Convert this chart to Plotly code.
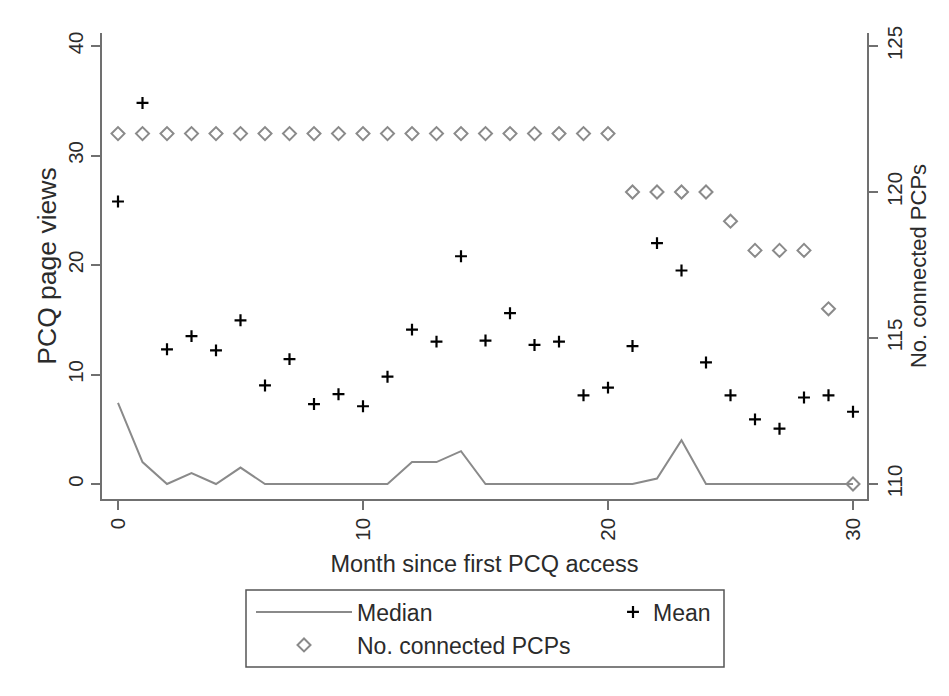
import plotly.graph_objects as go

months = list(range(31))
mean_views = [25.8, 34.8, 12.3, 13.5, 12.2, 14.95, 9.0, 11.4, 7.3, 8.2, 7.1, 9.8,
              14.1, 13.0, 20.8, 13.1, 15.6, 12.7, 13.0, 8.1, 8.8, 12.6, 22.0, 19.5,
              11.1, 8.1, 5.9, 5.05, 7.9, 8.1, 6.6]
median_views = [7.4, 2, 0, 1, 0, 1.5, 0, 0, 0, 0, 0, 0,
                2, 2, 3, 0, 0, 0, 0, 0, 0, 0, 0.5, 4,
                0, 0, 0, 0, 0, 0, 0]
connected_pcps = [122] * 21 + [120, 120, 120, 120, 119, 118, 118, 118, 116, 110]

FONT = "Liberation Sans, Arial, sans-serif"
TXT = "#2b2b2b"
AX = "#707070"
GREY = "#8a8a8a"

W, H = 949, 696
OFF = 8  # page body margin
# plot area in window pixels
PL, PR, PT, PB = 102, 867, 33, 499
pw, ph = PR - PL, PB - PT

def px(x):
    return (x - PL) / pw

def py(y):
    return (PB - y) / ph

fig = go.Figure()
fig.add_trace(go.Scatter(x=months, y=median_views, mode="lines", name="Median",
                         line=dict(color=GREY, width=2), legend="legend"))
fig.add_trace(go.Scatter(x=months, y=mean_views, mode="markers", name="Mean",
                         marker=dict(symbol="cross-thin", size=8.5, color="black",
                                     line=dict(color="black", width=2.2)),
                         legend="legend2"))
fig.add_trace(go.Scatter(x=months, y=connected_pcps, mode="markers", name="No. connected PCPs",
                         yaxis="y2",
                         marker=dict(symbol="diamond-open", size=10, color=GREY,
                                     line=dict(color=GREY, width=2)),
                         legend="legend3"))

tickfont = dict(family=FONT, size=20.5, color=TXT)

# left axis: 0 at y=484px, 40 at y=46px
ppu = (484 - 46) / 40.0
ylo = -(PB - 484) / ppu
yhi = (484 - PT) / ppu
y2lo = 110 + ylo * 15 / 40
y2hi = 110 + yhi * 15 / 40

xppu = (853 - 118) / 30.0
xlo = -(118 - PL) / xppu
xhi = (PR - 118) / xppu

axis_common = dict(showline=True, linecolor=AX, linewidth=1.5, ticks="outside",
                   ticklen=9, tickcolor=AX, tickwidth=1.5, showgrid=False,
                   zeroline=False, tickfont=tickfont, tickangle=-90)

legfont = dict(family=FONT, size=23, color=TXT)

fig.update_layout(
    width=W, height=H,
    margin=dict(l=PL - OFF, r=W + OFF - PR, t=PT - OFF, b=H + OFF - PB),
    paper_bgcolor="white", plot_bgcolor="white",
    font=dict(family=FONT, size=22, color=TXT),
    xaxis=dict(range=[xlo, xhi], tickvals=[0, 10, 20, 30], **axis_common,
               title=dict(text="Month since first PCQ access",
                          font=dict(family=FONT, size=23.5, color=TXT), standoff=16)),
    yaxis=dict(range=[ylo, yhi], tickvals=[0, 10, 20, 30, 40], **axis_common,
               title=dict(text="PCQ page views",
                          font=dict(family=FONT, size=26.5, color=TXT), standoff=0)),
    yaxis2=dict(range=[y2lo, y2hi], tickvals=[110, 115, 120, 125],
                overlaying="y", side="right", **axis_common,
                title=dict(text="No. connected PCPs",
                           font=dict(family=FONT, size=22, color=TXT), standoff=4)),
    legend=dict(x=px(251), y=py(612), xanchor="left", yanchor="middle",
                bgcolor="rgba(0,0,0,0)", itemwidth=96, font=legfont),
    legend2=dict(x=px(613), y=py(612), xanchor="left", yanchor="middle",
                 bgcolor="rgba(0,0,0,0)", itemwidth=30, font=legfont),
    legend3=dict(x=px(251), y=py(645), xanchor="left", yanchor="middle",
                 bgcolor="rgba(0,0,0,0)", itemwidth=96, font=legfont),
    shapes=[dict(type="rect", xref="paper", yref="paper",
                 x0=px(246), x1=px(724), y0=py(590), y1=py(667),
                 line=dict(color="#555555", width=1.5), fillcolor="rgba(0,0,0,0)")],
    showlegend=True,
)

fig.write_html("out.html")
